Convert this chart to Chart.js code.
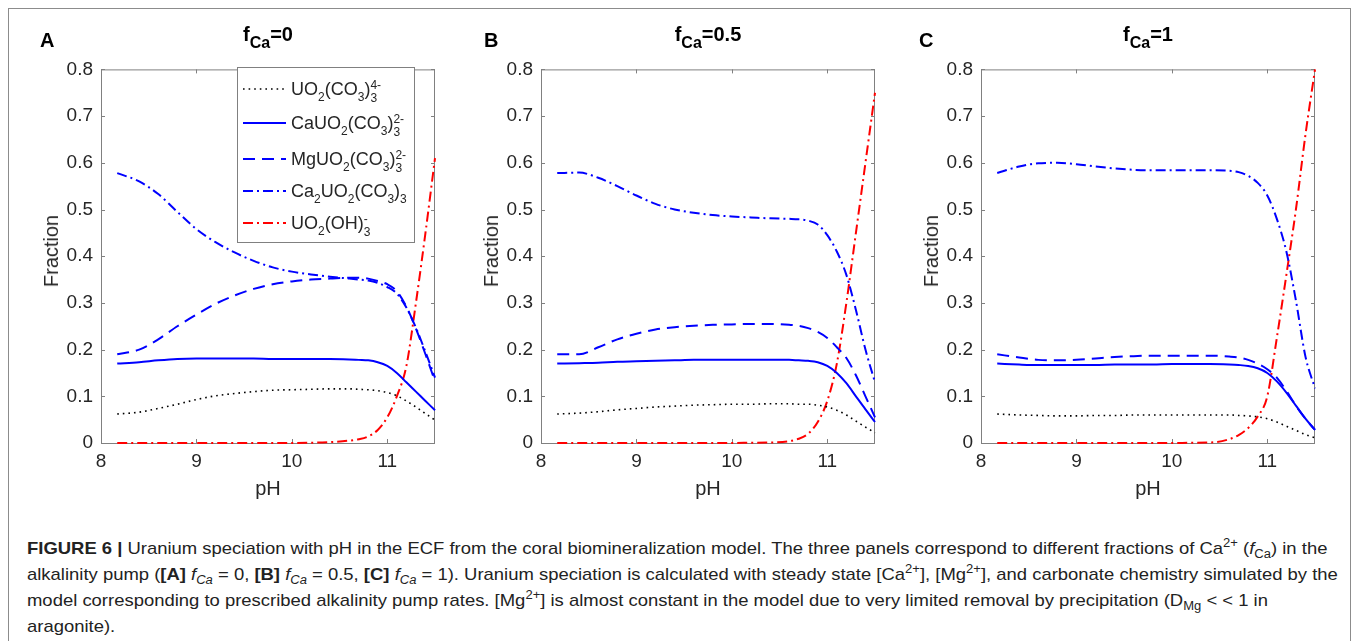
<!DOCTYPE html>
<html>
<head>
<meta charset="utf-8">
<script src="https://cdn.jsdelivr.net/npm/chart.js@4.4.1/dist/chart.umd.min.js"></script>
<style>
body { margin: 0; background: #fff; width: 1357px; height: 641px; overflow: hidden; position: relative;
       font-family: "Liberation Sans", Arial, Helvetica, sans-serif; color: #262626; }
#frame { position: absolute; left: 8px; top: 8px; width: 1341px; height: 700px; border: 1px solid #8c8c8c; }
canvas.panel { position: absolute; top: 50px; }
.letter { position: absolute; top: 30px; font-weight: bold; font-size: 20px; line-height: 20px; color: #000; }
.title { position: absolute; top: 24px; font-weight: bold; font-size: 20px; line-height: 20px; color: #000;
         transform: translateX(-50%); white-space: nowrap; }
.title sub { font-size: 16px; vertical-align: -7px; line-height: 0; }
.xt { position: absolute; top: 478px; font-size: 20px; line-height: 20px; transform: translateX(-50%); }
.yt { position: absolute; top: 251px; font-size: 20px; line-height: 20px; white-space: nowrap;
      transform: translate(-50%, -50%) rotate(-90deg); }
.leg { position: absolute; left: 291px; font-size: 18px; line-height: 20px; color: #262626; white-space: nowrap; }
.leg .sb { font-size: 12px; vertical-align: -6px; line-height: 0; }
.leg .ss { display: inline-block; font-size: 12px; line-height: 13px; vertical-align: -7px; }
.leg .ss span { display: block; }
.cap { position: absolute; left: 27px; font-size: 17px; line-height: 20px; color: #222; white-space: nowrap;
       transform-origin: 0 50%; }
.cap sup, .cap sub { font-size: 12px; line-height: 0; }
</style>
</head>
<body>
<div id="frame"></div>

<canvas id="panelA" class="panel" width="419" height="453" style="left:26px"></canvas>
<canvas id="panelB" class="panel" width="419" height="453" style="left:466px"></canvas>
<canvas id="panelC" class="panel" width="419" height="453" style="left:906px"></canvas>

<div class="letter" style="left:40px">A</div>
<div class="letter" style="left:484px">B</div>
<div class="letter" style="left:919px">C</div>

<div class="title" style="left:268px">f<sub>Ca</sub>=0</div>
<div class="title" style="left:708px">f<sub>Ca</sub>=0.5</div>
<div class="title" style="left:1148px">f<sub>Ca</sub>=1</div>

<div class="xt" style="left:268px">pH</div>
<div class="xt" style="left:708px">pH</div>
<div class="xt" style="left:1148px">pH</div>
<div class="yt" style="left:51px">Fraction</div>
<div class="yt" style="left:491px">Fraction</div>
<div class="yt" style="left:931px">Fraction</div>

<div class="leg" style="top:79px">UO<span class="sb">2</span>(CO<span class="sb">3</span>)<span class="ss"><span>4-</span><span>3</span></span></div>
<div class="leg" style="top:113px">CaUO<span class="sb">2</span>(CO<span class="sb">3</span>)<span class="ss"><span>2-</span><span>3</span></span></div>
<div class="leg" style="top:149px">MgUO<span class="sb">2</span>(CO<span class="sb">3</span>)<span class="ss"><span>2-</span><span>3</span></span></div>
<div class="leg" style="top:181px">Ca<span class="sb">2</span>UO<span class="sb">2</span>(CO<span class="sb">3</span>)<span class="sb">3</span></div>
<div class="leg" style="top:213px">UO<span class="sb">2</span>(OH)<span class="ss"><span>-</span><span>3</span></span></div>

<div class="cap" style="top:539px"><b>FIGURE 6 |</b> Uranium speciation with pH in the ECF from the coral biomineralization model. The three panels correspond to different fractions of Ca<sup>2+</sup> (<i>f</i><sub>Ca</sub>) in the</div>
<div class="cap" style="top:565px" id="capLong">alkalinity pump (<b>[A]</b> <i>f<sub>Ca</sub></i> = 0, <b>[B]</b> <i>f<sub>Ca</sub></i> = 0.5, <b>[C]</b> <i>f<sub>Ca</sub></i> = 1). Uranium speciation is calculated with steady state [Ca<sup>2+</sup>], [Mg<sup>2+</sup>], and carbonate chemistry simulated by the</div>
<div class="cap" style="top:591px">model corresponding to prescribed alkalinity pump rates. [Mg<sup>2+</sup>] is almost constant in the model due to very limited removal by precipitation (D<sub>Mg</sub> &lt; &lt; 1 in</div>
<div class="cap" style="top:617px">aragonite).</div>

<script>
// pH grid shared by all panels
const ph = [8.17, 8.4, 8.6, 8.8, 9.0, 9.2, 9.4, 9.6, 9.8, 10.0, 10.2, 10.4, 10.6, 10.7, 10.8, 10.9, 11.0, 11.1, 11.2, 11.3, 11.4, 11.5];

const seriesNames = ['UO2(CO3)3 4-', 'CaUO2(CO3)3 2-', 'MgUO2(CO3)3 2-', 'Ca2UO2(CO3)3', 'UO2(OH)3 -'];
const xTicks = [8, 9, 10, 11];

// Panel A, fCa = 0
const freeA = [0.062, 0.066, 0.074, 0.083, 0.093, 0.101, 0.106, 0.110, 0.113, 0.114, 0.115, 0.116, 0.116, 0.115, 0.114, 0.112, 0.108, 0.101, 0.090, 0.077, 0.063, 0.049];
const caA   = [0.170, 0.173, 0.177, 0.180, 0.181, 0.181, 0.181, 0.181, 0.180, 0.180, 0.180, 0.180, 0.179, 0.178, 0.177, 0.173, 0.165, 0.150, 0.130, 0.110, 0.090, 0.070];
const mgA   = [0.190, 0.200, 0.222, 0.250, 0.275, 0.298, 0.316, 0.330, 0.340, 0.346, 0.350, 0.352, 0.354, 0.354, 0.352, 0.347, 0.340, 0.325, 0.292, 0.245, 0.190, 0.132];
const ca2A  = [0.578, 0.560, 0.533, 0.495, 0.458, 0.430, 0.408, 0.390, 0.376, 0.367, 0.361, 0.356, 0.352, 0.350, 0.348, 0.343, 0.334, 0.320, 0.290, 0.247, 0.195, 0.140];
const ohA   = [0, 0, 0, 0, 0, 0, 0, 0, 0, 0, 0.0005, 0.002, 0.005, 0.008, 0.014, 0.028, 0.055, 0.100, 0.165, 0.300, 0.450, 0.610];

// Panel B, fCa = 0.5
const freeB = [0.062, 0.064, 0.067, 0.071, 0.074, 0.077, 0.079, 0.081, 0.082, 0.083, 0.083, 0.084, 0.084, 0.083, 0.083, 0.081, 0.077, 0.070, 0.060, 0.047, 0.034, 0.022];
const caB   = [0.170, 0.171, 0.172, 0.174, 0.175, 0.176, 0.177, 0.178, 0.178, 0.178, 0.178, 0.178, 0.178, 0.177, 0.176, 0.173, 0.165, 0.150, 0.128, 0.100, 0.072, 0.045];
const mgB   = [0.190, 0.190, 0.205, 0.222, 0.234, 0.243, 0.248, 0.251, 0.253, 0.254, 0.255, 0.255, 0.253, 0.251, 0.246, 0.238, 0.225, 0.205, 0.182, 0.145, 0.100, 0.055];
const ca2B  = [0.578, 0.579, 0.568, 0.550, 0.530, 0.512, 0.500, 0.493, 0.488, 0.485, 0.483, 0.481, 0.480, 0.479, 0.476, 0.468, 0.445, 0.410, 0.360, 0.285, 0.200, 0.130];
const ohB   = [0, 0, 0, 0, 0, 0, 0, 0, 0, 0, 0.0005, 0.001, 0.004, 0.009, 0.020, 0.045, 0.090, 0.170, 0.300, 0.450, 0.600, 0.750];

// Panel C, fCa = 1
const freeC = [0.062, 0.060, 0.059, 0.058, 0.058, 0.059, 0.059, 0.060, 0.060, 0.060, 0.060, 0.060, 0.060, 0.059, 0.058, 0.056, 0.052, 0.045, 0.036, 0.027, 0.018, 0.011];
const caC   = [0.170, 0.168, 0.167, 0.167, 0.167, 0.167, 0.168, 0.168, 0.168, 0.169, 0.169, 0.169, 0.168, 0.167, 0.165, 0.160, 0.150, 0.132, 0.108, 0.080, 0.052, 0.028];
const mgC   = [0.190, 0.183, 0.178, 0.177, 0.178, 0.181, 0.184, 0.186, 0.187, 0.187, 0.187, 0.187, 0.185, 0.183, 0.178, 0.170, 0.158, 0.140, 0.112, 0.080, 0.052, 0.028];
const ca2C  = [0.578, 0.592, 0.599, 0.600, 0.597, 0.592, 0.588, 0.585, 0.584, 0.584, 0.584, 0.584, 0.583, 0.580, 0.572, 0.557, 0.530, 0.480, 0.410, 0.305, 0.185, 0.117];
const ohC   = [0, 0, 0, 0, 0, 0, 0, 0, 0, 0, 0.0005, 0.001, 0.008, 0.017, 0.032, 0.057, 0.100, 0.225, 0.360, 0.500, 0.660, 0.800];

// MATLAB-like line styles, in the order of seriesNames
const lineStyles = [
    { color: '#000000', width: 1.6, dash: [1.6, 4] },
    { color: '#0000ff', width: 2, dash: [] },
    { color: '#0000ff', width: 2, dash: [12, 7] },
    { color: '#0000ff', width: 2, dash: [10, 4, 2, 4] },
    { color: '#ff0000', width: 2, dash: [10, 4, 2, 4] }
];

const axisColor = '#262626';
const boxColor = '#808080';

// Box around the plot with inward ticks on all four sides (drawn under the lines)
const boxPlugin = {
    id: 'matlabBox',
    beforeDatasetsDraw(chart) {
        const { ctx, chartArea: a, scales } = chart;
        const tick = 4;
        ctx.save();
        ctx.strokeStyle = boxColor;
        ctx.lineWidth = 1;
        ctx.beginPath();
        ctx.rect(a.left + 0.5, a.top + 0.5, a.right - a.left - 1, a.bottom - a.top);
        scales.x.ticks.forEach(t => {
            const px = Math.round(scales.x.getPixelForValue(t.value)) + 0.5;
            ctx.moveTo(px, a.bottom); ctx.lineTo(px, a.bottom - tick);
            ctx.moveTo(px, a.top); ctx.lineTo(px, a.top + tick);
        });
        scales.y.ticks.forEach(t => {
            const py = Math.round(scales.y.getPixelForValue(t.value)) + 0.5;
            ctx.moveTo(a.left, py); ctx.lineTo(a.left + tick, py);
            ctx.moveTo(a.right, py); ctx.lineTo(a.right - tick, py);
        });
        ctx.stroke();
        ctx.restore();
    }
};

// Legend box with line samples (the labels are HTML next to it)
const legendPlugin = {
    id: 'speciesLegend',
    afterDraw(chart) {
        const { ctx } = chart;
        const left = 211.5, top = 17.5, w = 177, h = 175;
        const rows = [39, 73, 109, 141, 173];
        ctx.save();
        ctx.fillStyle = '#ffffff';
        ctx.fillRect(left, top, w, h);
        ctx.strokeStyle = boxColor;
        ctx.lineWidth = 1;
        ctx.setLineDash([]);
        ctx.strokeRect(left, top, w, h);
        chart.data.datasets.forEach((ds, i) => {
            ctx.beginPath();
            ctx.strokeStyle = ds.borderColor;
            ctx.lineWidth = ds.borderWidth;
            ctx.setLineDash(ds.borderDash);
            ctx.moveTo(217, rows[i]);
            ctx.lineTo(260, rows[i]);
            ctx.stroke();
        });
        ctx.restore();
    }
};

function makePanel(canvasId, series, withLegend) {
    const ctx = document.getElementById(canvasId).getContext('2d');
    return new Chart(ctx, {
        type: 'line',
        data: {
            datasets: series.map((values, i) => ({
                label: seriesNames[i],
                data: ph.map((p, j) => ({ x: p, y: values[j] })),
                borderColor: lineStyles[i].color,
                borderWidth: lineStyles[i].width,
                borderDash: lineStyles[i].dash,
                pointRadius: 0,
                fill: false,
                clip: false,
                cubicInterpolationMode: 'monotone'
            }))
        },
        options: {
            responsive: false,
            animation: false,
            events: [],
            layout: { padding: { top: 9, right: 10, left: 0, bottom: 0 } },
            plugins: {
                legend: { display: false },
                tooltip: { enabled: false }
            },
            scales: {
                x: {
                    type: 'linear',
                    min: 8,
                    max: 11.5,
                    afterFit: scale => { scale.height = 60; },
                    afterBuildTicks: scale => { scale.ticks = xTicks.map(v => ({ value: v })); },
                    grid: { display: false, drawTicks: false },
                    border: { display: false },
                    ticks: {
                        padding: 7,
                        color: axisColor,
                        font: { family: '"Liberation Sans", Arial, sans-serif', size: 19 },
                        maxRotation: 0
                    }
                },
                y: {
                    min: 0,
                    max: 0.8,
                    afterFit: scale => { scale.width = 75; },
                    grid: { display: false, drawTicks: false },
                    border: { display: false },
                    ticks: {
                        stepSize: 0.1,
                        padding: 8,
                        color: axisColor,
                        font: { family: '"Liberation Sans", Arial, sans-serif', size: 19 },
                        callback: v => (v === 0 ? '0' : v.toFixed(1))
                    }
                }
            }
        },
        plugins: withLegend ? [boxPlugin, legendPlugin] : [boxPlugin]
    });
}

makePanel('panelA', [freeA, caA, mgA, ca2A, ohA], true);
makePanel('panelB', [freeB, caB, mgB, ca2B, ohB], false);
makePanel('panelC', [freeC, caC, mgC, ca2C, ohC], false);

// squeeze the caption lines to the width of the original (condensed) type
document.fonts.ready.then(() => {
    const target = 1311;
    const w = document.getElementById('capLong').scrollWidth;
    const k = target / w;
    document.querySelectorAll('.cap').forEach(el => {
        el.style.transform = 'scaleX(' + k + ')';
    });
});
</script>
</body>
</html>
